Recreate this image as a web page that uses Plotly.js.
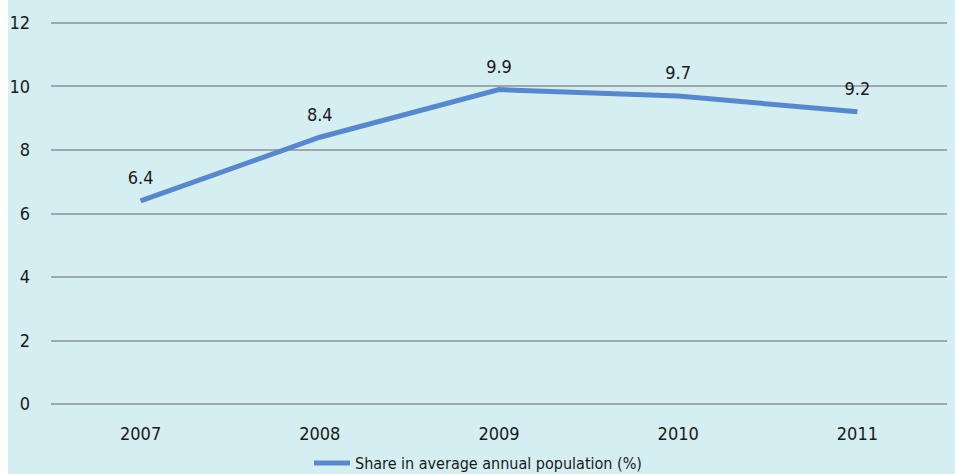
<!DOCTYPE html>
<html>
<head>
<meta charset="utf-8">
<script src="https://cdn.plot.ly/plotly-3.0.1.min.js"></script>
<style>
  html, body { margin: 0; padding: 0; background: #ffffff; }
  #chart { position: absolute; left: 8px; top: 0; width: 947px; height: 474px; }
</style>
</head>
<body>
<div id="chart"></div>
<script>
const years = ['2007', '2008', '2009', '2010', '2011'];
const shareValues = [6.4, 8.4, 9.9, 9.7, 9.2];
const valueLabels = ['6.4', '8.4', '9.9', '9.7', '9.2'];
const yTicks = [0, 2, 4, 6, 8, 10, 12];
const seriesName = 'Share in average annual population (%)';

const FONT = '"DejaVu Sans Condensed", "Liberation Sans Narrow", sans-serif';

const trace = {
  x: years,
  y: shareValues,
  type: 'scatter',
  mode: 'lines+markers+text',
  name: seriesName,
  line: { color: '#5888cc', width: 5 },
  marker: { size: 18, color: 'rgba(0,0,0,0)', line: { width: 0 } },
  text: valueLabels,
  textposition: 'top center',
  textfont: { family: FONT, size: 18, color: '#1a1a1a' },
  cliponaxis: false,
  hoverinfo: 'skip'
};

const plotW = 896;

const layout = {
  width: 947,
  height: 474,
  margin: { l: 43, r: 8, t: 21, b: 68 },
  paper_bgcolor: '#d5eef2',
  plot_bgcolor: '#d5eef2',
  font: { family: FONT, size: 18, color: '#1a1a1a' },
  showlegend: true,
  legend: {
    orientation: 'h',
    x: (309 - 51) / plotW,
    xanchor: 'left',
    xref: 'paper',
    y: (474 - 463) / 474,
    yanchor: 'middle',
    yref: 'container',
    itemwidth: 36,
    bgcolor: 'rgba(0,0,0,0)',
    font: { family: FONT, size: 16, color: '#1a1a1a' }
  },
  xaxis: {
    type: 'category',
    range: [-0.5, 4.5],
    showgrid: false,
    zeroline: false,
    showline: false,
    ticks: '',
    ticklabelstandoff: 15,
    tickfont: { family: FONT, size: 18, color: '#1a1a1a' }
  },
  yaxis: {
    range: [-0.06, 12.06],
    tickvals: yTicks,
    ticktext: yTicks.map(String),
    showgrid: true,
    gridcolor: '#a2a6a8',
    gridwidth: 2,
    zeroline: false,
    showline: false,
    ticks: '',
    ticklabelstandoff: 20,
    tickfont: { family: FONT, size: 18, color: '#1a1a1a' }
  }
};

Plotly.newPlot('chart', [trace], layout, { displayModeBar: false, staticPlot: true });
</script>
</body>
</html>
